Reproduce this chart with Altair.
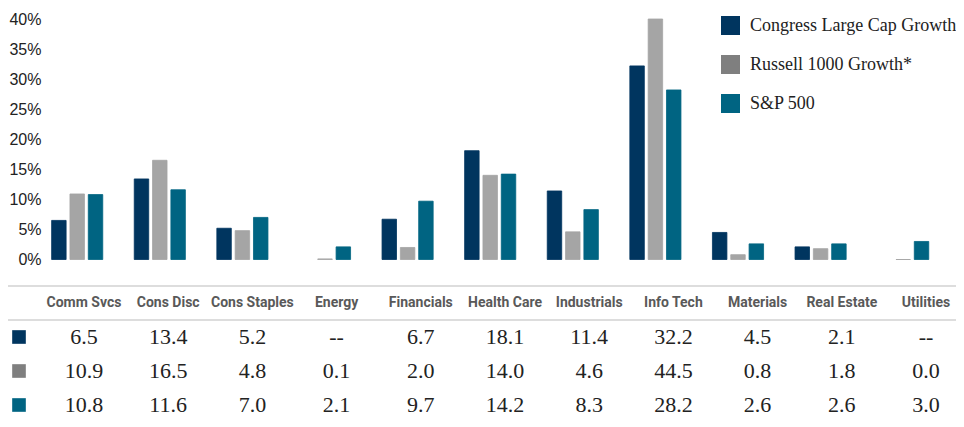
import altair as alt
import pandas as pd

categories = ["Comm Svcs", "Cons Disc", "Cons Staples", "Energy", "Financials",
              "Health Care", "Industrials", "Info Tech", "Materials", "Real Estate", "Utilities"]
series = ["Congress Large Cap Growth", "Russell 1000 Growth", "S&P 500"]
congress = [6.5, 13.4, 5.2, None, 6.7, 18.1, 11.4, 32.2, 4.5, 2.1, None]
russell = [10.9, 16.5, 4.8, 0.1, 2.0, 14.0, 4.6, 44.5, 0.8, 1.8, 0.0]
sp500 = [10.8, 11.6, 7.0, 2.1, 9.7, 14.2, 8.3, 28.2, 2.6, 2.6, 3.0]
y_ticks = [0, 5, 10, 15, 20, 25, 30, 35, 40]

bar_colors = ["#00355F", "#A5A5A5", "#006482"]
key_colors = ["#00355F", "#7F7F7F", "#006482"]

values_by_series = [congress, russell, sp500]

bar_rows, table_rows = [], []
for si, (name, vals) in enumerate(zip(series, values_by_series)):
    for cat, v in zip(categories, vals):
        if v is not None:
            bar_rows.append({"category": cat, "series": name, "value": v})
        table_rows.append({"category": cat, "series": name, "row": si + 1,
                           "label": "--" if v is None else f"{v:.1f}"})
bars_df = pd.DataFrame(bar_rows)
table_df = pd.DataFrame(table_rows)
header_df = pd.DataFrame({"category": categories, "row": [0] * len(categories)})
key_df = pd.DataFrame({"series": series, "row": [1, 2, 3]})
rule_df = pd.DataFrame({"pos": [-0.5, 0.5]})

W, H = 948, 411

bar_x = alt.Scale(domain=categories, range=[27.9, 936.5], paddingInner=0.381, paddingOuter=0.1905)
tab_x = alt.Scale(type="point", domain=categories, range=[76, 918], padding=0)
tab_y = alt.Scale(domain=[0, 3], range=[295, 397], nice=False, zero=False)

bars = alt.Chart(bars_df).mark_bar(strokeWidth=0.8).encode(
    x=alt.X("category:N", scale=bar_x, axis=None, sort=categories),
    xOffset=alt.XOffset("series:N", scale=alt.Scale(domain=series, paddingInner=0.21, paddingOuter=0)),
    y=alt.Y("value:Q",
            scale=alt.Scale(domain=[0, 40], range=[251.5, 11], clamp=True, nice=False, zero=True),
            axis=alt.Axis(values=y_ticks, labelExpr="datum.value + '%'", domain=False, ticks=False,
                          grid=False, labelPadding=0, offset=-33, labelFont="Liberation Sans",
                          labelFontSize=16, labelColor="#222222", title=None)),
    color=alt.Color("series:N", scale=alt.Scale(domain=series, range=bar_colors), legend=None),
    stroke=alt.Stroke("series:N", scale=alt.Scale(domain=series, range=bar_colors), legend=None),
)

rules = alt.Chart(rule_df).mark_rule(color="#DDDDDD", strokeWidth=2).encode(
    y=alt.Y("pos:Q", scale=tab_y, axis=None)
)

headers = alt.Chart(header_df).mark_text(
    font="Roboto", fontWeight="bold", fontSize=14, color="#595959", baseline="middle"
).encode(
    x=alt.X("category:N", scale=tab_x, axis=None),
    y=alt.Y("row:Q", scale=tab_y, axis=None),
    text="category:N",
)

cells = alt.Chart(table_df).mark_text(
    font="Liberation Serif", fontSize=22, color="#222222", baseline="middle"
).encode(
    x=alt.X("category:N", scale=tab_x, axis=None),
    y=alt.Y("row:Q", scale=tab_y, axis=None),
    text="label:N",
)

keys = alt.Chart(key_df).mark_square(size=186, opacity=1, filled=True).encode(
    x=alt.value(11),
    y=alt.Y("row:Q", scale=tab_y, axis=None),
    color=alt.Color("series:N", scale=alt.Scale(domain=series, range=key_colors),
                    legend=alt.Legend(orient="none", legendX=713, legendY=8, title=None,
                                      symbolType="square", symbolSize=361, symbolStrokeWidth=0,
                                      symbolOpacity=1, labelFont="Liberation Serif",
                                      labelFontSize=18, labelColor="#222222", rowPadding=20,
                                      labelOffset=10, padding=0, labelLimit=400,
                                      labelExpr="datum.label == 'Russell 1000 Growth' ? 'Russell 1000 Growth*' : datum.label")),
)

chart = alt.layer(bars, rules, headers, cells, keys).resolve_scale(
    x="independent", y="independent", color="independent", stroke="independent"
).properties(
    width=W, height=H, autosize=alt.AutoSizeParams(type="none"), padding=0, background="white"
).configure_view(stroke=None)

chart.save("out.html", embed_options={"renderer": "svg", "actions": False})
